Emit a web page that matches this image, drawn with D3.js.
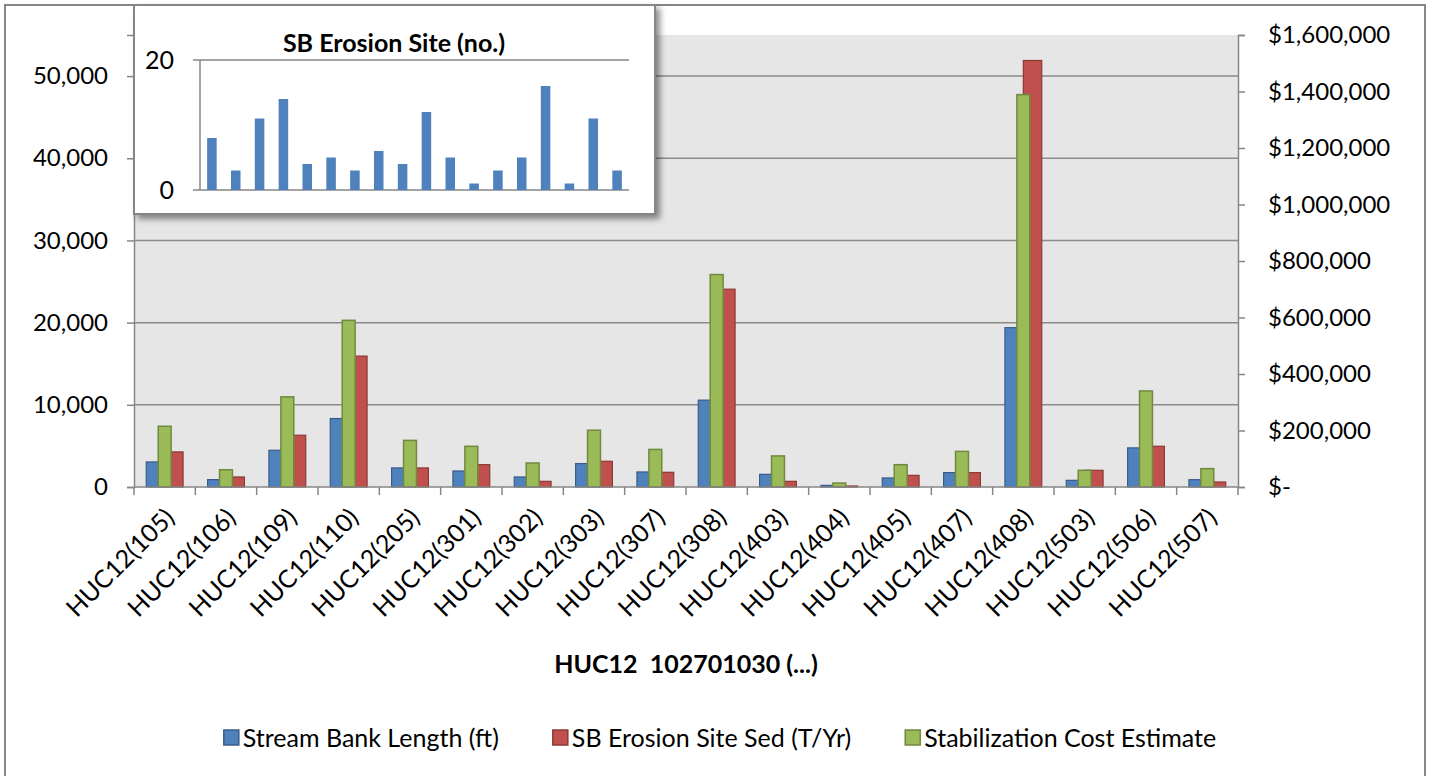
<!DOCTYPE html>
<html>
<head>
<meta charset="utf-8">
<script src="https://cdn.jsdelivr.net/npm/d3@7"></script>
<style>
  html, body { margin: 0; padding: 0; background: #fff; }
  svg { display: block; font-family: Lato, "Open Sans", sans-serif; }
</style>
</head>
<body>
<div id="chart"></div>
<script>
// Categories along the x axis.
const categories = ["HUC12(105)", "HUC12(106)", "HUC12(109)", "HUC12(110)", "HUC12(205)", "HUC12(301)",
    "HUC12(302)", "HUC12(303)", "HUC12(307)", "HUC12(308)", "HUC12(403)", "HUC12(404)",
    "HUC12(405)", "HUC12(407)", "HUC12(408)", "HUC12(503)", "HUC12(506)", "HUC12(507)"];

// Primary axis series.
const streamBankLength = [3050, 900, 4470, 8330, 2320, 1950, 1220, 2850, 1830, 10570, 1540, 200, 1100, 1750, 19390, 810, 4760, 890];
const erosionSiteSed = [4270, 1220, 6300, 15930, 2320, 2720, 690, 3130, 1790, 24070, 690, 120, 1420, 1750, 51900, 2030, 4960, 610];

// Secondary axis series ($).
const stabilizationCost = [215000, 61000, 319000, 590000, 165000, 144000, 85000, 201000, 133000, 752000, 110000, 14000, 79000, 126000, 1389000, 59000, 340000, 65000];

// Inset: number of erosion sites.
const erosionSites = [8, 3, 11, 14, 4, 5, 3, 6, 4, 12, 5, 1, 3, 5, 16, 1, 11, 3];

// Tick values.
const leftTicks = [0, 10000, 20000, 30000, 40000, 50000];
const rightTicks = [0, 200000, 400000, 600000, 800000, 1000000, 1200000, 1400000, 1600000];
const insetTicks = [0, 20];

const seriesNames = ["Stream Bank Length (ft)", "SB Erosion Site Sed (T/Yr)", "Stabilization Cost Estimate"];

function createChart(container, width, height) {
    // Plot area bounds.
    const left = 134, right = 1238, top = 35, bottom = 487;
    const axisColor = "#868686";

    const colors = {
        blue: {fill: "#4f81bd", stroke: "#385d8a"},
        red: {fill: "#c0504d", stroke: "#8c3836"},
        green: {fill: "#9bbb59", stroke: "#71893f"}
    };

    // Attach to the page right away so text can be measured.
    const svg = d3.select(container).append("svg")
        .attr("width", width)
        .attr("height", height)
        .attr("viewBox", [0, 0, width, height]);

    const defs = svg.append("defs");
    defs.append("filter")
        .attr("id", "shadow")
        .attr("x", "-5%").attr("y", "-5%").attr("width", "115%").attr("height", "120%")
        .append("feDropShadow")
        .attr("dx", 4).attr("dy", 4)
        .attr("stdDeviation", 3)
        .attr("flood-color", "#000")
        .attr("flood-opacity", 0.45);

    // Outer frame (bottom edge runs off the page).
    svg.append("rect")
        .attr("x", 5).attr("y", 5)
        .attr("width", 1420).attr("height", height + 20)
        .attr("fill", "#fff")
        .attr("stroke", axisColor)
        .attr("stroke-width", 2);

    // Scales.
    const x = d3.scaleBand()
        .domain(categories)
        .range([left, right])
        .paddingInner(0.4)
        .paddingOuter(0.2);

    const xSub = d3.scaleBand()
        .domain(["length", "sed"])
        .range([0, x.bandwidth()]);

    const greenWidth = x.bandwidth() * 0.35;

    const yLeft = d3.scaleLinear().domain([0, 55000]).range([bottom, top]);
    const yRight = d3.scaleLinear().domain([0, 1600000]).range([bottom, top]);

    // Plot background.
    svg.append("rect")
        .attr("x", left).attr("y", top)
        .attr("width", right - left).attr("height", bottom - top)
        .attr("fill", "#e6e6e6");

    // Gridlines from the left axis.
    svg.append("g")
        .selectAll("line")
        .data(leftTicks.filter(d => d > 0))
        .join("line")
        .attr("x1", left).attr("x2", right)
        .attr("y1", d => yLeft(d)).attr("y2", d => yLeft(d))
        .attr("stroke", "#8a8a8a")
        .attr("stroke-width", 1.5);

    // Bars: blue and red side by side on the primary axis, green on top on the secondary axis.
    const bars = svg.append("g");
    bars.selectAll(".len")
        .data(streamBankLength)
        .join("rect")
        .attr("x", (d, i) => x(categories[i]) + xSub("length"))
        .attr("y", d => yLeft(d))
        .attr("width", xSub.bandwidth())
        .attr("height", d => yLeft(0) - yLeft(d))
        .attr("fill", colors.blue.fill)
        .attr("stroke", colors.blue.stroke)
        .attr("stroke-width", 1.2);

    bars.selectAll(".sed")
        .data(erosionSiteSed)
        .join("rect")
        .attr("x", (d, i) => x(categories[i]) + xSub("sed"))
        .attr("y", d => yLeft(d))
        .attr("width", xSub.bandwidth())
        .attr("height", d => yLeft(0) - yLeft(d))
        .attr("fill", colors.red.fill)
        .attr("stroke", colors.red.stroke)
        .attr("stroke-width", 1.2);

    bars.selectAll(".cost")
        .data(stabilizationCost)
        .join("rect")
        .attr("x", (d, i) => x(categories[i]) + x.bandwidth() / 2 - greenWidth / 2)
        .attr("y", d => yRight(d))
        .attr("width", greenWidth)
        .attr("height", d => yRight(0) - yRight(d))
        .attr("fill", colors.green.fill)
        .attr("stroke", colors.green.stroke)
        .attr("stroke-width", 1.5);

    // Left axis.
    svg.append("g")
        .attr("transform", `translate(${left},0)`)
        .call(d3.axisLeft(yLeft).tickValues(leftTicks).tickSize(7).tickPadding(19).tickFormat(d3.format(",")))
        .call(g => g.select(".domain").attr("stroke", axisColor).attr("stroke-width", 1.5))
        .call(g => g.selectAll(".tick line").attr("stroke", axisColor).attr("stroke-width", 1.5))
        .call(g => g.selectAll(".tick text").attr("fill", "#000").style("font-size", "24px").style("font-family", "Lato"));

    // Right axis.
    svg.append("g")
        .attr("transform", `translate(${right},0)`)
        .call(d3.axisRight(yRight).tickValues(rightTicks).tickSize(7).tickPadding(23)
            .tickFormat(d => d === 0 ? "$-" : "$" + d3.format(",")(d)))
        .call(g => g.select(".domain").attr("stroke", axisColor).attr("stroke-width", 1.5))
        .call(g => g.selectAll(".tick line").attr("stroke", axisColor).attr("stroke-width", 1.5))
        .call(g => g.selectAll(".tick text").attr("fill", "#000").style("font-size", "24px").style("font-family", "Lato"));

    // Bottom axis: line plus ticks on category boundaries.
    const boundaries = categories.map(c => x(c) + x.bandwidth() / 2 - x.step() / 2).concat([right]);
    const xAxis = svg.append("g");
    xAxis.append("line")
        .attr("x1", left).attr("x2", right)
        .attr("y1", bottom).attr("y2", bottom)
        .attr("stroke", axisColor).attr("stroke-width", 1.5);
    xAxis.selectAll(".tick")
        .data(boundaries)
        .join("line")
        .attr("x1", d => d).attr("x2", d => d)
        .attr("y1", bottom).attr("y2", bottom + 8)
        .attr("stroke", axisColor).attr("stroke-width", 1.5);

    // Rotated category labels.
    xAxis.selectAll("text")
        .data(categories)
        .join("text")
        .attr("transform", d => `translate(${x(d) + x.bandwidth() / 2 + 5},${bottom + 26}) rotate(-45)`)
        .attr("text-anchor", "end")
        .attr("dy", "0.35em")
        .style("font-size", "25px")
        .text(d => d);

    // X axis title.
    svg.append("text")
        .attr("x", 686).attr("y", 673)
        .attr("text-anchor", "middle")
        .attr("font-weight", "bold")
        .style("font-size", "25px")
        .style("white-space", "pre")
        .text("HUC12  102701030 (...)");

    // Legend.
    const legendItems = [
        {name: seriesNames[0], c: colors.blue},
        {name: seriesNames[1], c: colors.red},
        {name: seriesNames[2], c: colors.green}
    ];
    const legend = svg.append("g");
    let lx = 0;
    legendItems.forEach(item => {
        const g = legend.append("g").attr("transform", `translate(${lx},0)`);
        g.append("rect")
            .attr("x", 0).attr("y", -8)
            .attr("width", 15).attr("height", 15)
            .attr("fill", item.c.fill)
            .attr("stroke", item.c.stroke)
            .attr("stroke-width", 1.5);
        const t = g.append("text")
            .attr("x", 19).attr("y", 0)
            .attr("dy", "0.35em")
            .style("font-size", "25px")
            .text(item.name);
        lx += 19 + t.node().getComputedTextLength() + 54;
    });
    const legendWidth = lx - 54;
    legend.attr("transform", `translate(${720 - legendWidth / 2},738)`);

    // Inset chart: SB Erosion Site (no.)
    const inset = svg.append("g");
    inset.append("rect")
        .attr("x", 134).attr("y", 5)
        .attr("width", 521).attr("height", 209)
        .attr("fill", "#fff")
        .attr("stroke", axisColor)
        .attr("stroke-width", 2)
        .attr("filter", "url(#shadow)");

    const xi = d3.scaleBand()
        .domain(categories)
        .range([200, 629])
        .paddingInner(0.6)
        .paddingOuter(0.3);
    const yi = d3.scaleLinear().domain([0, 20]).range([190, 60]);

    inset.append("text")
        .attr("x", 394).attr("y", 52)
        .attr("text-anchor", "middle")
        .attr("font-weight", "bold")
        .style("font-size", "25px")
        .text("SB Erosion Site (no.)");

    inset.selectAll(".grid")
        .data(insetTicks)
        .join("line")
        .attr("x1", 193).attr("x2", 629)
        .attr("y1", d => yi(d)).attr("y2", d => yi(d))
        .attr("stroke", axisColor)
        .attr("stroke-width", 1.5);

    inset.append("line")
        .attr("x1", 200).attr("x2", 200)
        .attr("y1", yi(20)).attr("y2", yi(0))
        .attr("stroke", axisColor)
        .attr("stroke-width", 1.5);

    inset.selectAll(".lbl")
        .data(insetTicks)
        .join("text")
        .attr("x", 174)
        .attr("y", d => yi(d))
        .attr("dy", "0.35em")
        .attr("text-anchor", "end")
        .style("font-size", "25px")
        .text(d => d);

    inset.selectAll(".bar")
        .data(erosionSites)
        .join("rect")
        .attr("x", (d, i) => xi(categories[i]))
        .attr("y", d => yi(d))
        .attr("width", xi.bandwidth())
        .attr("height", d => yi(0) - yi(d))
        .attr("fill", "#4f81bd");

    return svg.node();
}

createChart(document.getElementById("chart"), 1434, 776);
</script>
</body>
</html>
